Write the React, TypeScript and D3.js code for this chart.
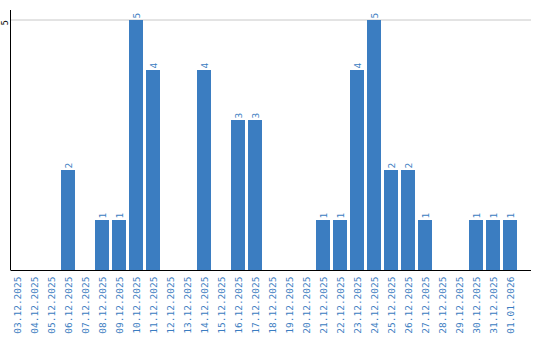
import React from "react";
import * as d3 from "d3";

const categories = [
  "03.12.2025", "04.12.2025", "05.12.2025", "06.12.2025", "07.12.2025",
  "08.12.2025", "09.12.2025", "10.12.2025", "11.12.2025", "12.12.2025",
  "13.12.2025", "14.12.2025", "15.12.2025", "16.12.2025", "17.12.2025",
  "18.12.2025", "19.12.2025", "20.12.2025", "21.12.2025", "22.12.2025",
  "23.12.2025", "24.12.2025", "25.12.2025", "26.12.2025", "27.12.2025",
  "28.12.2025", "29.12.2025", "30.12.2025", "31.12.2025", "01.01.2026",
];
const values = [0, 0, 0, 2, 0, 1, 1, 5, 4, 0, 0, 4, 0, 3, 3, 0, 0, 0, 1, 1, 4, 5, 2, 2, 1, 0, 0, 1, 1, 1];
const yTicks = [5];

const W = 540;
const H = 340;
const axisX = 10.5;
const baseY = 270;
const topY = 10;
const rightX = 531;
const barColor = "#3b7dc1";
const font = "'DejaVu Sans Mono', 'Liberation Mono', monospace";

export default function App() {
  const x = d3.scaleBand<string>().domain(categories).range([10, 517]).paddingInner(3 / 17).paddingOuter(0);
  const y = d3.scaleLinear().domain([0, 5]).range([baseY, 20]);
  return (
    <svg width={W} height={H} style={{ position: "absolute", left: 0, top: 0 }}>
      <rect width={W} height={H} fill="#fff" />
      {yTicks.map((t) => (
        <g key={t}>
          <line x1={axisX} x2={rightX} y1={y(t)} y2={y(t)} stroke="#c8c8c8" strokeWidth={1} />
          <text
            transform={`translate(7.5,${y(t)}) rotate(-90)`}
            textAnchor="end"
            fontFamily={font}
            fontSize={8.5}
            fill="#000"
          >
            {t}
          </text>
        </g>
      ))}
      {categories.map((c, i) => {
        const v = values[i];
        const bx = x(c)!;
        const cx = bx + x.bandwidth() / 2;
        return (
          <g key={c}>
            {v > 0 && (
              <>
                <rect x={bx} y={y(v)} width={x.bandwidth()} height={baseY - y(v)} fill={barColor} />
                <text
                  transform={`translate(${cx + 4},${y(v) - 1.5}) rotate(-90)`}
                  textAnchor="start"
                  fontFamily={font}
                  fontSize={9.5}
                  fill={barColor}
                >
                  {v}
                </text>
              </>
            )}
            <text
              transform={`translate(${cx + 4},${baseY + 6.5}) rotate(-90)`}
              textAnchor="end"
              fontFamily={font}
              fontSize={9.5}
              fill={barColor}
            >
              {c}
            </text>
          </g>
        );
      })}
      <line x1={axisX} x2={axisX} y1={topY} y2={baseY} stroke="#000" strokeWidth={1} />
      <line x1={axisX} x2={rightX} y1={baseY + 0.5} y2={baseY + 0.5} stroke="#000" strokeWidth={1} />
    </svg>
  );
}
